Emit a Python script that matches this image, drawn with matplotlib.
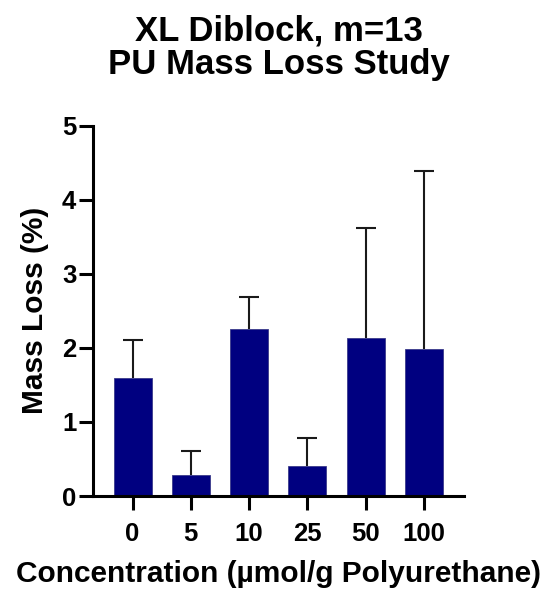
import matplotlib
matplotlib.use("Agg")
import matplotlib.pyplot as plt
import numpy as np

categories = ["0", "5", "10", "25", "50", "100"]
mass_loss = [1.59, 0.28, 2.26, 0.40, 2.13, 1.98]
err_upper = [0.52, 0.33, 0.43, 0.38, 1.49, 2.41]
yticks = [0, 1, 2, 3, 4, 5]

plt.rcParams['font.family'] = ['Liberation Sans', 'DejaVu Sans']
plt.rcParams['font.weight'] = 'bold'

fig = plt.figure(figsize=(5.48, 6.02), dpi=100)
ax = fig.add_axes([93/548, 1 - 496/602, 371/548, 370.3/602])

x = np.arange(len(categories))
tops = np.array(mass_loss) + np.array(err_upper)
ax.bar(x, mass_loss, width=0.65, color='#000080', edgecolor='#3a3a8a', linewidth=0.6, zorder=2)
ax.errorbar(x, mass_loss, yerr=[np.zeros(len(x)), err_upper], fmt='none',
            ecolor='#1a1a1a', elinewidth=1.5, capsize=0, zorder=1)
ax.plot(x, tops, linestyle='none', marker='_', markersize=14, markeredgewidth=1.5,
        color='#1a1a1a', zorder=1)

ax.set_xlim(-0.68, 5.69)
ax.set_ylim(0, 5)
ax.set_xticks(x)
ax.set_xticklabels(categories, fontsize=18.5, fontweight='bold')
ax.set_yticks(yticks)
ax.set_yticklabels([str(t) for t in yticks], fontsize=18.5, fontweight='bold')
for s in ['top', 'right']:
    ax.spines[s].set_visible(False)
for s in ['left', 'bottom']:
    ax.spines[s].set_linewidth(2.2)
ax.tick_params(axis='both', width=2.2, length=10)
ax.tick_params(axis='x', pad=9)
ax.tick_params(axis='y', pad=2)

ax.set_ylabel("Mass Loss (%)", fontsize=21.5, fontweight='bold')
ax.yaxis.set_label_coords(-0.119, 0.5)
ax.set_xlabel("Concentration (µmol/g Polyurethane)", fontsize=21.5, fontweight='bold')
ax.xaxis.set_label_coords(0.5, -0.173)
ax.set_title("XL Diblock, m=13\nPU Mass Loss Study", fontsize=25, fontweight='bold',
             linespacing=1.05, pad=37)

fig.savefig("out.png", dpi=100)
